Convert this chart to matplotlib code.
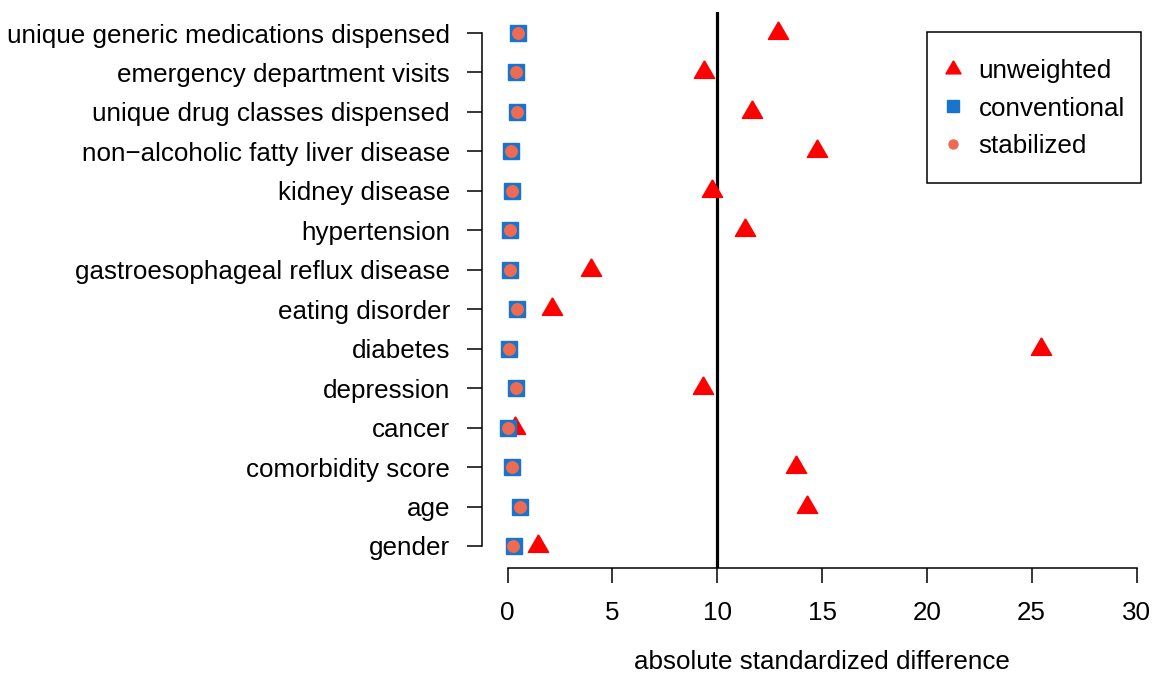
import matplotlib
matplotlib.use("Agg")
import matplotlib.pyplot as plt
from matplotlib.lines import Line2D
from matplotlib.patches import Rectangle

plt.rcParams['font.family'] = ['Liberation Sans', 'DejaVu Sans']

# rows from bottom to top
covariates = [
    "gender", "age", "comorbidity score", "cancer", "depression", "diabetes",
    "eating disorder", "gastroesophageal reflux disease", "hypertension",
    "kidney disease", "non\u2212alcoholic fatty liver disease",
    "unique drug classes dispensed", "emergency department visits",
    "unique generic medications dispensed",
]
unweighted = [1.46, 14.27, 13.76, 0.36, 9.33, 25.45, 2.13, 3.98, 11.34, 9.73, 14.78, 11.66, 9.38, 12.90]
conventional = [0.30, 0.59, 0.20, 0.01, 0.40, 0.09, 0.44, 0.11, 0.11, 0.20, 0.19, 0.44, 0.40, 0.49]
stabilized = [0.28, 0.58, 0.20, 0.02, 0.40, 0.09, 0.44, 0.11, 0.11, 0.21, 0.19, 0.43, 0.39, 0.48]
xticks = [0, 5, 10, 15, 20, 25, 30]
threshold = 10

RED = "#FF0000"
BLUE = "#1874CD"
CORAL = "#EE6A50"
FS = 18.7

W, H = 1157, 675
fig = plt.figure(figsize=(W / 100, H / 100), dpi=100)
ax = fig.add_axes([482 / W, (H - 568) / H, (1150 - 482) / W, (568 - 12) / H])

ypos = list(range(1, len(covariates) + 1))

# triangle centred on its centroid, like R's pch 17
tri = [(0, 11.5), (-10, -5.8), (10, -5.8), (0, 11.5)]

ax.axvline(threshold, color="black", lw=2.3, zorder=1)
ax.plot(unweighted, ypos, ls="none", marker=tri, ms=16.8, color=RED, mec=RED, zorder=3)
ax.plot(conventional, ypos, ls="none", marker="s", ms=11.5, color=BLUE, mec=BLUE, zorder=4)
ax.plot(stabilized, ypos, ls="none", marker="o", ms=8.3, color=CORAL, mec=CORAL, zorder=5)

px_unit = (1136.5 - 507.5) / 30
ax.set_xlim((482 - 507.5) / px_unit, (1150 - 507.5) / px_unit)
row_unit = (546 - 33) / 13
ax.set_ylim(1 - 22 / row_unit, 14 + 21 / row_unit)

ax.set_yticks(ypos)
ax.set_yticklabels(covariates, fontsize=FS)
ax.set_xticks(xticks)
ax.set_xticklabels([str(t) for t in xticks], fontsize=FS)
ax.tick_params(axis="y", length=11, width=1.1, pad=12)
ax.tick_params(axis="x", length=10.5, width=1.1, pad=13)

for s in ["top", "right"]:
    ax.spines[s].set_visible(False)
ax.spines["left"].set_bounds(1, len(covariates))
ax.spines["bottom"].set_bounds(0, 30)
ax.spines["left"].set_linewidth(1.1)
ax.spines["bottom"].set_linewidth(1.1)

fig.text(822 / W, 1 - 662 / H, "absolute standardized difference", fontsize=FS,
         ha="center", va="center")

# legend box
fig.patches.append(Rectangle((926.7 / W, 1 - 182.7 / H), (1141 - 926.7) / W, (182.7 - 32.3) / H,
                             transform=fig.transFigure, fill=False, ec="black", lw=1.1))
handles = [
    Line2D([], [], ls="none", marker=tri, ms=12.5, color=RED),
    Line2D([], [], ls="none", marker="s", ms=8.6, color=BLUE),
    Line2D([], [], ls="none", marker="o", ms=6.5, color=CORAL),
]
fig.legend(handles, ["unweighted", "conventional", "stabilized"], loc="upper left",
           bbox_to_anchor=(940 / W, 1 - 59 / H), frameon=False, fontsize=FS,
           borderpad=0, borderaxespad=0, handlelength=1.0, handletextpad=0.48,
           labelspacing=0.52)

fig.savefig("out.png", dpi=100)
